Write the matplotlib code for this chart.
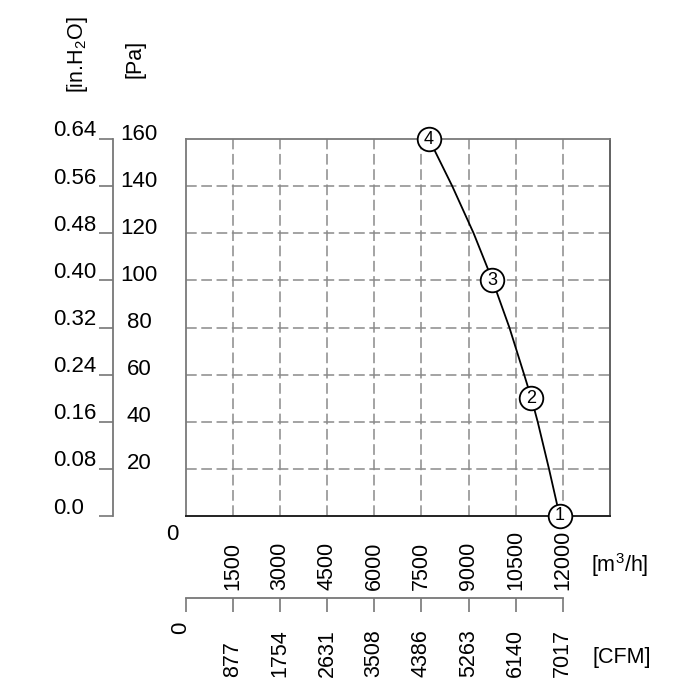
import matplotlib
matplotlib.use("Agg")
import matplotlib.pyplot as plt
from matplotlib.transforms import blended_transform_factory, offset_copy

# ---------------- data ----------------
flow_curve = [7743, 8483, 9163, 9763, 10300, 10770, 11000, 11200, 11560, 11900]   # m3/h
pres_curve = [160, 140, 120, 100, 80, 60, 50, 40, 20, 0]                          # Pa
pt_flow = [11900, 11000, 9763, 7743]
pt_pres = [0, 50, 100, 160]
pt_label = ["1", "2", "3", "4"]

m3h_ticks = [0, 1500, 3000, 4500, 6000, 7500, 9000, 10500, 12000]
m3h_labels = ["0", "1500", "3000", "4500", "6000", "7500", "9000", "10500", "12000"]
cfm_labels = ["0", "877", "1754", "2631", "3508", "4386", "5263", "6140", "7017"]
pa_ticks = [0, 20, 40, 60, 80, 100, 120, 140, 160]
pa_labels = ["", "20", "40", "60", "80", "100", "120", "140", "160"]
inh2o_labels = ["0.0", "0.08", "0.16", "0.24", "0.32", "0.40", "0.48", "0.56", "0.64"]

# ---------------- style ----------------
plt.rcParams['font.family'] = ['Liberation Sans', 'DejaVu Sans']
plt.rcParams['mathtext.fontset'] = 'custom'
plt.rcParams['mathtext.rm'] = 'Liberation Sans'
plt.rcParams['mathtext.default'] = 'regular'

W, H = 700, 698
fig = plt.figure(figsize=(W / 100, H / 100), dpi=100)

def fx(px):
    return px / W

def fy(py):
    return 1 - py / H

L, R, T, B = 185.5, 610, 139, 516
ax = fig.add_axes([fx(L), fy(B), fx(R - L), (B - T) / H])
ax.set_xlim(0, 13500)
ax.set_ylim(0, 160)
ax.set_xticks(m3h_ticks[1:])
ax.set_yticks(pa_ticks[1:-1])
ax.tick_params(length=0, labelbottom=False, labelleft=False)
ax.grid(True, color='#8a8a8a', lw=1.1, ls=(0, (7, 3)))
for s in ['left', 'top']:
    ax.spines[s].set_color('#7a7a7a')
    ax.spines[s].set_linewidth(1.3)
ax.spines['right'].set_color('#555555')
ax.spines['right'].set_linewidth(1.3)
ax.spines['bottom'].set_color('#222222')
ax.spines['bottom'].set_linewidth(1.4)

# curve
ax.plot(flow_curve, pres_curve, color='black', lw=1.3, zorder=3)
ax.scatter(pt_flow, pt_pres, s=17 ** 2, facecolors='white', edgecolors='black',
           linewidths=1.3, zorder=4, clip_on=False)
for f, p, t in zip(pt_flow, pt_pres, pt_label):
    ax.text(f, p, t, ha='center', va='center', fontsize=13, zorder=5)

# left pressure axis (spine with ticks)
axl = fig.add_axes([fx(113), fy(B), 0.0001, (B - T) / H])
axl.set_ylim(0, 160)
axl.set_xticks([])
axl.set_yticks(pa_ticks)
axl.tick_params(axis='y', direction='out', length=10, width=1.2, color='#777777', labelleft=False)
for s in ['right', 'top', 'bottom']:
    axl.spines[s].set_visible(False)
axl.spines['left'].set_color('#777777')
axl.spines['left'].set_linewidth(1.3)
axl.patch.set_visible(False)

tr_y = blended_transform_factory(fig.transFigure, ax.transData)
tr_y_in = offset_copy(tr_y, fig=fig, x=0, y=8, units='dots')
tr_y_pa = offset_copy(tr_y, fig=fig, x=0, y=5, units='dots')
for p, lab in zip(pa_ticks, inh2o_labels):
    fig.text(fx(53), p, lab, transform=tr_y_in, ha='left', va='center', fontsize=16)
for p, lab in zip(pa_ticks, pa_labels):
    if lab:
        fig.text(fx(139), p, lab, transform=tr_y_pa, ha='center', va='center', fontsize=16)

fig.text(fx(77), fy(55), r'[in.H$_2$O]', rotation=90, ha='center', va='center', fontsize=15.5)
fig.text(fx(135), fy(59), '[Pa]', rotation=90, ha='center', va='center', fontsize=15.5)

# bottom m3/h labels
tr_x = blended_transform_factory(ax.transData, fig.transFigure)
fig.text(fx(172), fy(534), m3h_labels[0], ha='center', va='center', fontsize=16)
for f, lab in zip(m3h_ticks[1:], m3h_labels[1:]):
    fig.text(f, fy(590), lab, transform=tr_x, rotation=90, ha='center', va='bottom', fontsize=15.5)
fig.text(fx(620), fy(565), r'[m$^3$/h]', ha='center', va='center', fontsize=15.5)

# CFM axis
axc = fig.add_axes([fx(L), fy(598), fx(R - L), 0.0001])
axc.set_xlim(0, 13500)
axc.set_yticks([])
axc.set_xticks(m3h_ticks)
axc.tick_params(axis='x', direction='out', length=10, width=1.2, color='#777777', labelbottom=False)
for s in ['left', 'right', 'top']:
    axc.spines[s].set_visible(False)
axc.spines['bottom'].set_bounds(0, 12000)
axc.spines['bottom'].set_color('#777777')
axc.spines['bottom'].set_linewidth(1.3)
axc.patch.set_visible(False)

fig.text(fx(181), fy(628), cfm_labels[0], rotation=90, ha='center', va='center', fontsize=16)
for f, lab in zip(m3h_ticks[1:], cfm_labels[1:]):
    fig.text(f, fy(677), lab, transform=tr_x, rotation=90, ha='center', va='bottom', fontsize=15.5)
fig.text(fx(622), fy(658), '[CFM]', ha='center', va='center', fontsize=15.5)

fig.savefig('out.png', dpi=100)
